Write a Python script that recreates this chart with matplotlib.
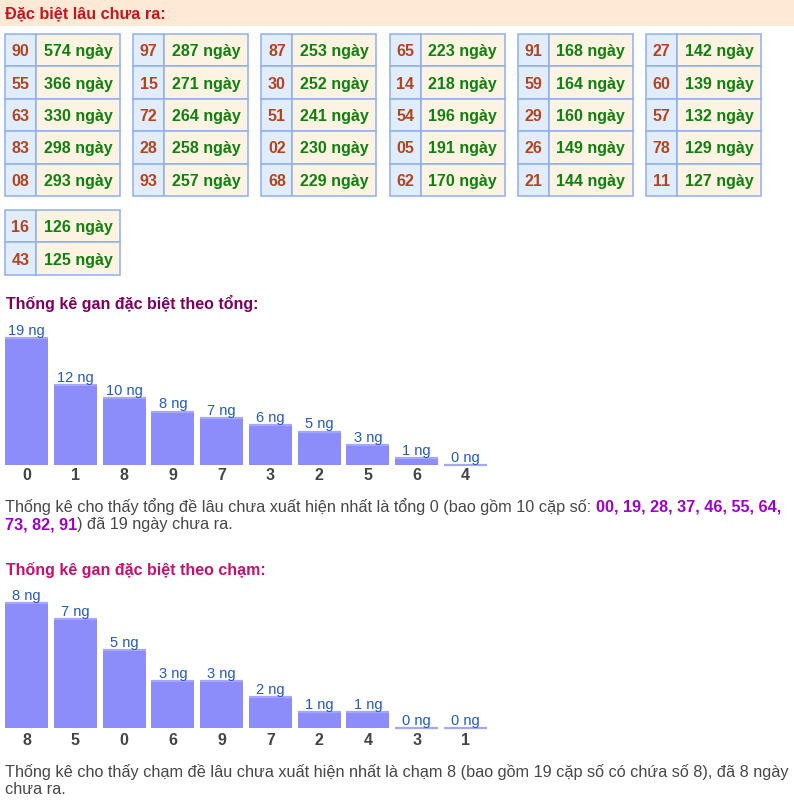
import matplotlib
matplotlib.use("Agg")
import matplotlib.pyplot as plt
from matplotlib.patches import Rectangle

plt.rcParams['font.family'] = ['Liberation Sans', 'DejaVu Sans']

# ---------------- data ----------------
gan_numbers = ["90", "55", "63", "83", "08",
               "97", "15", "72", "28", "93",
               "87", "30", "51", "02", "68",
               "65", "14", "54", "05", "62",
               "91", "59", "29", "26", "21",
               "27", "60", "57", "78", "11",
               "16", "43"]
gan_days = [574, 366, 330, 298, 293,
            287, 271, 264, 258, 257,
            253, 252, 241, 230, 229,
            223, 218, 196, 191, 170,
            168, 164, 160, 149, 144,
            142, 139, 132, 129, 127,
            126, 125]

tong_labels = ["0", "1", "8", "9", "7", "3", "2", "5", "6", "4"]
tong_values = [19, 12, 10, 8, 7, 6, 5, 3, 1, 0]

cham_labels = ["8", "5", "0", "6", "9", "7", "2", "4", "3", "1"]
cham_values = [8, 7, 5, 3, 3, 2, 1, 1, 0, 0]

title1 = "Đặc biệt lâu chưa ra:"
title2 = "Thống kê gan đặc biệt theo tổng:"
title3 = "Thống kê gan đặc biệt theo chạm:"
para1_a = "Thống kê cho thấy tổng đề lâu chưa xuất hiện nhất là tổng 0 (bao gồm 10 cặp số: "
para1_b = "00, 19, 28, 37, 46, 55, 64,"
para1_c = "73, 82, 91"
para1_d = ") đã 19 ngày chưa ra."
para2_a = "Thống kê cho thấy chạm đề lâu chưa xuất hiện nhất là chạm 8 (bao gồm 19 cặp số có chứa số 8), đã 8 ngày"
para2_b = "chưa ra."

# ---------------- styles ----------------
W, H = 794, 803
HEADER_BG = "#fde9d6"
RED = "#c8141e"
NUM_BG = "#e1edfd"
DAY_BG = "#fdf3e2"
BORDER = "#8eaff2"
NUM_COL = "#b4441c"
DAY_COL = "#108010"
BAR_COL = "#8c8cfa"
BAR_EDGE = "#a6a6fb"
LBL_COL = "#2258c8"
CAT_COL = "#444444"
TXT_COL = "#474747"
PURPLE_B = "#a000cc"
T2_COL = "#800060"
T3_COL = "#c8106e"

fig = plt.figure(figsize=(W / 100, H / 100), dpi=100)
fig.patch.set_facecolor("white")
ax = fig.add_axes([0, 0, 1, 1])
ax.set_xlim(0, W)
ax.set_ylim(H, 0)
ax.axis("off")

# header band
ax.add_patch(Rectangle((0, 0), W, 27, facecolor=HEADER_BG, edgecolor="none"))
ax.text(5, 13.5, title1, color=RED, fontsize=11.7, fontweight="bold", va="center", ha="left")

# tables
group_x0 = 5
group_step = 128.2
num_w = 31
day_w = 84
row_h = 32.4
band_tops = [35, 211]
for i, (n, d) in enumerate(zip(gan_numbers, gan_days)):
    g = i // 5
    r = i % 5
    band = g // 6
    gx = group_x0 + (g % 6) * group_step
    y = band_tops[band] + r * row_h
    ax.add_patch(Rectangle((gx, y), num_w, row_h, facecolor=NUM_BG, edgecolor=BORDER, lw=1.1))
    ax.add_patch(Rectangle((gx + num_w, y), day_w, row_h, facecolor=DAY_BG, edgecolor=BORDER, lw=1.1))
    ax.text(gx + num_w / 2, y + row_h / 2 + 0.5, n, color=NUM_COL, fontsize=11.5,
            fontweight="bold", ha="center", va="center")
    ax.text(gx + num_w + day_w / 2, y + row_h / 2 + 0.5, f"{d} ngày", color=DAY_COL,
            fontsize=11.5, fontweight="bold", ha="center", va="center")

# section titles
ax.text(6, 304, title2, color=T2_COL, fontsize=11.5, fontweight="bold", va="center")
ax.text(6, 570, title3, color=T3_COL, fontsize=11.5, fontweight="bold", va="center")


def bar_chart(values, labels, bottom_px, height_px, cat_off):
    left_px, width_px = 5, 482
    bx = fig.add_axes([left_px / W, (H - bottom_px) / H, width_px / W, height_px / H])
    bx.set_xlim(-0.44, 9.44)
    bx.set_ylim(0, max(values))
    bx.axis("off")
    xs = list(range(len(values)))
    bx.bar(xs, values, width=0.88, color=BAR_COL, edgecolor="none")
    bx.hlines(values, [x - 0.44 for x in xs], [x + 0.44 for x in xs],
              colors=BAR_EDGE, linewidth=1.6, clip_on=False)
    for x, v, l in zip(xs, values, labels):
        bx.annotate(f"{v} ng", (x, v), xytext=(0, 0.8), textcoords="offset points",
                    ha="center", va="bottom", fontsize=10.5, color=LBL_COL, annotation_clip=False)
        bx.annotate(l, (x, 0), xytext=(0, -cat_off), textcoords="offset points",
                    ha="center", va="center", fontsize=11.5, fontweight="bold",
                    color=CAT_COL, annotation_clip=False)
    return bx


bar_chart(tong_values, tong_labels, 466, 127, 7)
bar_chart(cham_values, cham_labels, 729, 125, 8)

PARA_FS = 11.66


def rich_line(x, y, parts):
    prev = None
    for text, color, weight in parts:
        if prev is None:
            prev = ax.text(x, y, text, color=color, fontweight=weight, fontsize=PARA_FS,
                           va="center", ha="left")
        else:
            prev = ax.annotate(text, xy=(1, 0.5), xycoords=prev, color=color,
                               fontweight=weight, fontsize=PARA_FS, va="center", ha="left")


rich_line(5, 507, [(para1_a, TXT_COL, "normal"), (para1_b, PURPLE_B, "bold")])
rich_line(5, 525, [(para1_c, PURPLE_B, "bold"), (para1_d, TXT_COL, "normal")])
rich_line(5, 772, [(para2_a, TXT_COL, "normal")])
rich_line(5, 790, [(para2_b, TXT_COL, "normal")])

fig.savefig("out.png", dpi=100, facecolor="white")
